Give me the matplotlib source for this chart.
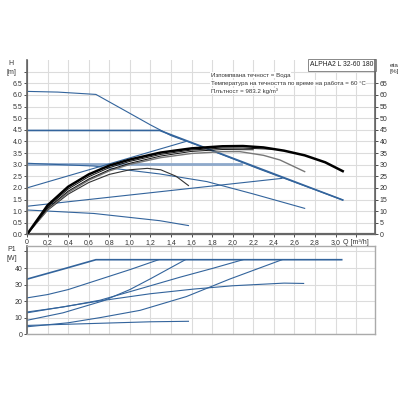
import matplotlib
matplotlib.use("Agg")
import matplotlib.pyplot as plt
import numpy as np

plt.rcParams['font.family'] = ['Liberation Sans', 'DejaVu Sans']

blue = '#33649c'
light_blue = '#8ea9cb'
grid_c = '#dcdcdc'
spine_c = '#666666'

# --- H(Q) curves ---
q_max = [0, 0.3, 0.67, 0.97, 1.2, 1.4, 1.68, 2.27, 3.07]
h_max = [6.15, 6.12, 6.02, 5.28, 4.71, 4.25, 3.8, 2.79, 1.48]

q_cp45 = [0, 1.29, 3.07]
h_cp45 = [4.47, 4.47, 1.48]

q_cp30 = [0, 2.08]
h_cp30 = [3.01, 3.01]

q_pp_hi = [0, 1.54]
h_pp_hi = [2.0, 3.99]

q_pp_lo = [0, 2.48]
h_pp_lo = [1.21, 2.41]

q_iii = [0, 0.65, 1.29, 1.75, 2.2, 2.7]
h_iii = [3.06, 2.94, 2.6, 2.27, 1.74, 1.12]

q_i = [0, 0.65, 1.29, 1.57]
h_i = [1.05, 0.9, 0.59, 0.38]

# efficiency curves (right axis, eta = 10 * H scale)
q_eta_a = [0, 0.2, 0.4, 0.6, 0.8, 1.0, 1.3, 1.6, 1.9, 2.1, 2.3, 2.5, 2.7, 2.9, 3.07]
eta_a = [0, 12.5, 20.5, 25.8, 29.6, 32.2, 35.2, 37.0, 37.9, 38.0, 37.4, 36.0, 34.0, 31.0, 27.2]

q_eta_b = [0, 0.2, 0.4, 0.6, 0.8, 1.0, 1.3, 1.6, 1.9, 2.1, 2.4]
eta_b = [0, 11.8, 19.5, 24.8, 28.7, 31.4, 34.4, 36.3, 37.1, 37.1, 36.6]

q_eta_e = [0, 0.2, 0.4, 0.6, 0.8, 1.0, 1.3, 1.6, 1.9, 2.2]
eta_e = [0, 11.2, 18.6, 23.8, 27.8, 30.6, 33.7, 35.7, 36.5, 36.4]

q_eta_c = [0, 0.2, 0.4, 0.6, 0.8, 1.0, 1.3, 1.6, 1.9, 2.07, 2.3, 2.46, 2.7]
eta_c = [0, 10.8, 18.0, 23.3, 27.3, 30.1, 33.0, 34.8, 35.6, 35.6, 34.0, 32.0, 27.0]

q_eta_d = [0, 0.2, 0.4, 0.6, 0.8, 1.0, 1.17, 1.3, 1.45, 1.57]
eta_d = [0, 10.4, 17.3, 22.3, 25.8, 27.8, 28.4, 27.8, 25.0, 21.0]

# --- P1(Q) curves ---
q_p1 = [0, 0.33, 0.67, 3.06]
p_p1 = [33.3, 39.0, 45, 45]
q_p2 = [0, 0.2, 0.4, 0.6, 0.8, 1.0, 1.28]
p_p2 = [22, 24, 27, 31, 35, 39, 45]
q_p3 = [0, 0.35, 0.74, 1.0, 1.2, 1.54]
p_p3 = [8.5, 13, 20.2, 27, 33.5, 45]
q_p4 = [0, 0.35, 0.71, 1.1, 1.49, 1.8, 2.1]
p_p4 = [13.5, 16.5, 20.6, 27.5, 34.5, 39.7, 45]
q_p5 = [0, 0.35, 0.71, 1.2, 1.62, 2.0, 2.5, 2.69]
p_p5 = [13, 16.6, 20.2, 24.5, 27.3, 29.3, 30.9, 30.7]
q_p6 = [0, 0.4, 0.71, 1.1, 1.55, 1.97, 2.48]
p_p6 = [4.6, 7, 10.1, 14.5, 22.8, 33.3, 45]
q_p7 = [0, 0.71, 1.2, 1.57]
p_p7 = [5.4, 6.7, 7.6, 7.9]

x_ticks = np.arange(0, 3.3, 0.2)
x_labels = [('0' if i == 0 else f'{v:.1f}'.replace('.', ',')) for i, v in enumerate(x_ticks)]
x_labels[-1] = 'Q [m³/h]'

h_ticks = np.arange(0, 7.01, 0.5)
h_labels = [f'{v:.1f}' for v in h_ticks[:-1]] + ['']
eta_ticks = np.arange(0, 70, 5)

fig = plt.figure(figsize=(4, 4), dpi=100)
ax = fig.add_axes([0.0675, 0.414, 0.869, 0.436])
ax2 = ax.twinx()
axp = fig.add_axes([0.0675, 0.164, 0.869, 0.222])

# top chart
ax.plot(q_cp30, h_cp30, color=light_blue, lw=2.0, zorder=2)
for q, h in [(q_max, h_max), (q_pp_hi, h_pp_hi), (q_pp_lo, h_pp_lo), (q_iii, h_iii), (q_i, h_i)]:
    ax.plot(q, h, color=blue, lw=0.8, zorder=3)
ax.plot(q_cp45, h_cp45, color=blue, lw=1.2, zorder=3)

ax2.plot(q_eta_d, eta_d, color='#333333', lw=0.8)
ax2.plot(q_eta_c, eta_c, color='#777777', lw=1.0)
ax2.plot(q_eta_e, eta_e, color='#111111', lw=0.7)
ax2.plot(q_eta_b, eta_b, color='#111111', lw=0.7)
ax2.plot(q_eta_a, eta_a, color='black', lw=1.8)

ax.set_xlim(0, 3.38)
ax.set_ylim(0, 7.5)
ax2.set_ylim(0, 75)
ax.set_xticks(x_ticks)
ax.set_xticklabels(x_labels)
ax.set_yticks(h_ticks)
ax.set_yticklabels(h_labels)
ax2.set_yticks(eta_ticks)
ax2.set_yticklabels([str(v) for v in eta_ticks])
ax.grid(True, color=grid_c, lw=0.8)
ax.set_axisbelow(True)
for a in (ax, ax2):
    a.tick_params(labelsize=5, length=2, width=0.6, pad=1.5, colors='#333333')
    a.spines['top'].set_visible(False)
    for s in ('left', 'right', 'bottom'):
        a.spines[s].set_color(spine_c)
ax.spines['bottom'].set_linewidth(1.6)
ax.spines['left'].set_linewidth(1.2)
ax2.spines['right'].set_linewidth(1.2)

ax.text(-0.045, 1.0, 'H\n[m]', transform=ax.transAxes, fontsize=5, ha='center', va='top',
        color='#333333', linespacing=1.4)
ax2.text(1.055, 0.985, 'eta\n[%]', transform=ax.transAxes, fontsize=4.6, ha='center', va='top',
         color='#333333', linespacing=1.4)
ax.text(0.997, 0.993, 'ALPHA2 L 32-60 180', transform=ax.transAxes, fontsize=4.9, ha='right', va='top',
        color='#222222', zorder=6,
        bbox=dict(boxstyle='square,pad=0.35', fc='white', ec='#888888', lw=0.7))
info_lines = ['Изпомпвана течност = Вода',
              'Температура на течността по време на работа = 60 °C',
              'Плътност = 983.2 kg/m³']
for i, line in enumerate(info_lines):
    ax.text(0.528, 0.912 - i * 0.045, line, transform=ax.transAxes, fontsize=4.4, ha='left', va='center',
            color='#333333', zorder=6, bbox=dict(boxstyle='square,pad=0.1', fc='white', ec='none'))

# bottom chart
for q, p in [(q_p2, p_p2), (q_p3, p_p3), (q_p4, p_p4), (q_p5, p_p5), (q_p6, p_p6), (q_p7, p_p7)]:
    axp.plot(q, p, color=blue, lw=0.8)
axp.plot(q_p1, p_p1, color=blue, lw=1.2)

axp.set_xlim(0, 3.38)
axp.set_ylim(0, 53.5)
axp.set_xticks(x_ticks)
axp.set_xticklabels([])
axp.set_yticks(np.arange(0, 51, 10))
axp.set_yticklabels(['0', '10', '20', '30', '40', ''])
axp.grid(True, color=grid_c, lw=0.8)
axp.set_axisbelow(True)
axp.tick_params(labelsize=5, length=2, width=0.6, pad=1.5, colors='#333333')
axp.tick_params(axis='x', length=0)
for s in ('top', 'right', 'bottom'):
    axp.spines[s].set_color('#aaaaaa')
    axp.spines[s].set_linewidth(1.0)
axp.spines['left'].set_color(spine_c)
axp.spines['left'].set_linewidth(1.2)
axp.text(-0.045, 0.99, 'P1\n[W]', transform=axp.transAxes, fontsize=5, ha='center', va='top',
         color='#333333', linespacing=1.4)

fig.savefig('out.png', dpi=100)
